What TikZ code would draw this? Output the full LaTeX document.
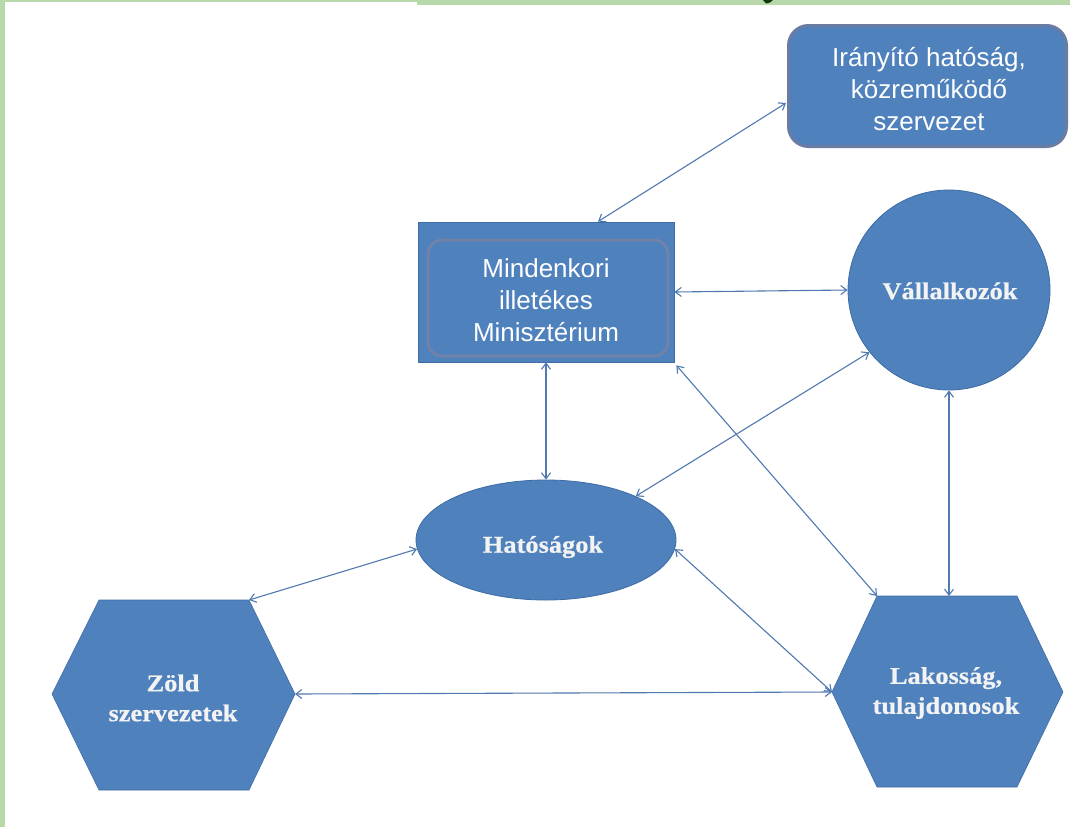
\documentclass[tikz,border=0pt]{standalone}
\usepackage{fontspec}
\setmainfont{Liberation Sans}
\newfontfamily\serifb[FakeStretch=1.1,FakeBold=0.6]{Liberation Serif Bold}
\usetikzlibrary{arrows.meta,shapes.geometric,calc}
\definecolor{fillblue}{HTML}{4F81BD}
\definecolor{edgeblue}{HTML}{3E6CA4}
\definecolor{connblue}{HTML}{5079B0}
\definecolor{irborder}{HTML}{6B7CA4}
\definecolor{innerborder}{HTML}{7082A8}
\definecolor{slidegreen}{HTML}{B7D8A8}
\definecolor{darkgreen}{HTML}{0C3A10}
\definecolor{offwhite}{HTML}{F3F3F3}
\begin{document}
\begin{tikzpicture}[x=1pt,y=-1pt,
  >={Straight Barb[length=6pt,width=9pt]},
  conn/.style={draw=connblue, line width=1.1pt, <->},
  sanslabel/.style={text=white, align=center, font=\fontsize{26}{32}\selectfont},
  seriflabel/.style={text=offwhite, align=center, font=\serifb\fontsize{24}{30}\selectfont},
  blueshape/.style={fill=fillblue, draw=edgeblue, line width=0.8pt}
]
\useasboundingbox (0,0) rectangle (1070,827);
\fill[white] (0,0) rectangle (1070,827);
% slide frame
\fill[slidegreen] (0,0) rectangle (5,827);
\fill[slidegreen] (0,0) rectangle (417,2);
\fill[slidegreen] (417,0) rectangle (1070,4.5);
\fill[darkgreen] (763,0) -- (773,0) -- (770,2.5) -- (766,3.5) -- cycle;

% Irányító hatóság
\node[fill=fillblue, draw=irborder, line width=3pt, rounded corners=20pt,
      minimum width=278pt, minimum height=121pt, inner sep=0pt] (irany) at (927.5,86) {};
\node[sanslabel] (iranytext) at (929,89) {Irányító hatóság,\\közreműködő\\szervezet};

% Ministry
\node[blueshape, rectangle, minimum width=256pt, minimum height=140pt, inner sep=0pt] (min) at (546,292) {};
\draw[innerborder, line width=3pt, rounded corners=14pt] (428,240) rectangle (668,356);
\node[sanslabel] (mintext) at (546,300) {Mindenkori\\illetékes\\Minisztérium};

% Vállalkozók
\node[blueshape, ellipse, minimum width=202pt, minimum height=200pt, inner sep=0pt] (vall) at (949,290) {};
\node[seriflabel] (valltext) at (950,291) {Vállalkozók};

% Hatóságok
\node[blueshape, ellipse, minimum width=260pt, minimum height=120pt, inner sep=0pt] (hat) at (546,540) {};
\node[seriflabel] (hattext) at (543,547) {Hatóságok};

% Zöld szervezetek hexagon
\fill[fillblue] (52,694) -- (99,600) -- (249,600) -- (295,694) -- (249,790) -- (99,790) -- cycle;
\draw[edgeblue, line width=0.6pt] (52,694) -- (99,600) -- (249,600) -- (295,694) -- (249,790) -- (99,790) -- cycle;
\coordinate (zold-tr) at (249,600);
\coordinate (zold-r) at (295,694);
\node[seriflabel] (zold) at (173,698) {Zöld\\szervezetek};

% Lakosság hexagon
\fill[fillblue] (832,692) -- (877,596) -- (1017,596) -- (1063,692) -- (1017,787) -- (877,787) -- cycle;
\draw[edgeblue, line width=0.6pt] (832,692) -- (877,596) -- (1017,596) -- (1063,692) -- (1017,787) -- (877,787) -- cycle;
\coordinate (lak-l) at (832,692);
\coordinate (lak-tl) at (877,596);
\coordinate (lak-t) at (948,596);
\node[seriflabel] (lak) at (946,693) {Lakosság,\\tulajdonosok};

% connectors
\draw[conn] ([xshift=52pt]min.north) -- ([xshift=-1pt,yshift=-17pt]irany.west);
\draw[conn] (min.east) -- (vall.west);
\draw[conn] (min.south) -- (hat.north);
\draw[conn] ([xshift=2pt,yshift=-3pt]min.south east) -- (lak-tl);
\draw[conn] (vall.218) -- (hat.26);
\draw[conn] (vall.south) -- (vall.south |- lak-t);
\draw[conn] (hat.184) -- (zold-tr);
\draw[conn] (hat.-4) -- (lak-l);
\draw[conn] (zold-r) -- (lak-l);
\end{tikzpicture}
\end{document}
